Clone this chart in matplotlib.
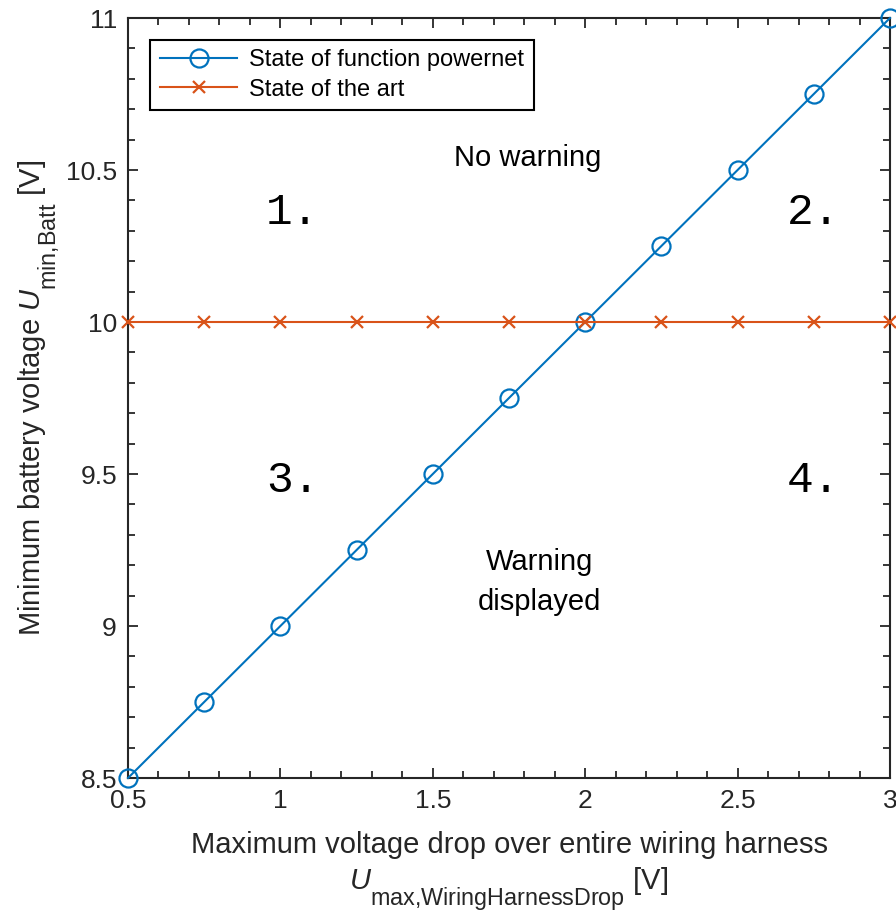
import matplotlib
matplotlib.use("Agg")
import matplotlib.pyplot as plt
from matplotlib.ticker import MultipleLocator, FormatStrFormatter

try:
    import matplotlib._mathtext as _mt
    _mt.SHRINK_FACTOR = 0.8
    _mt.FontConstantsBase.sub1 = 1.05
except Exception:
    pass

plt.rcParams['font.family'] = ['Liberation Sans', 'DejaVu Sans']
plt.rcParams['mathtext.fontset'] = 'custom'
plt.rcParams['mathtext.rm'] = 'Liberation Sans'
plt.rcParams['mathtext.it'] = 'Liberation Sans:italic'
plt.rcParams['mathtext.bf'] = 'Liberation Sans:bold'

x_vals = [0.5, 0.75, 1.0, 1.25, 1.5, 1.75, 2.0, 2.25, 2.5, 2.75, 3.0]
powernet = [8.5, 8.75, 9.0, 9.25, 9.5, 9.75, 10.0, 10.25, 10.5, 10.75, 11.0]
state_art = [10.0, 10.0, 10.0, 10.0, 10.0, 10.0, 10.0, 10.0, 10.0, 10.0, 10.0]
x_ticks = [0.5, 1, 1.5, 2, 2.5, 3]
y_ticks = [8.5, 9, 9.5, 10, 10.5, 11]

blue = '#0072BD'
orange = '#D95319'
axc = '#262626'

fig = plt.figure(figsize=(8.96, 9.15), dpi=100)
ax = fig.add_axes([128/896, 1-778/915, 762/896, 760/915])

ax.plot(x_vals, powernet, color=blue, lw=1.5, marker='o', ms=13, mfc='none',
        mew=1.6, label='State of function powernet', clip_on=False, zorder=3)
ax.plot(x_vals, state_art, color=orange, lw=1.5, marker='x', ms=8,
        mew=1.6, label='State of the art', clip_on=False, zorder=3)

ax.set_xlim(0.5, 3)
ax.set_ylim(8.5, 11)
ax.set_xticks(x_ticks)
ax.set_yticks(y_ticks)
ax.xaxis.set_minor_locator(MultipleLocator(0.1))
ax.yaxis.set_minor_locator(MultipleLocator(0.1))
ax.xaxis.set_major_formatter(FormatStrFormatter('%g'))
ax.yaxis.set_major_formatter(FormatStrFormatter('%g'))
ax.tick_params(which='both', direction='in', top=True, right=True,
               color=axc, width=1.3, labelcolor=axc, labelsize=19)
ax.tick_params(which='major', length=7, pad=8)
ax.tick_params(which='minor', length=5)
for s in ax.spines.values():
    s.set_color(axc)
    s.set_linewidth(1.5)

ax.set_xlabel('Maximum voltage drop over entire wiring harness\n'
              r'$U_{\mathrm{max{,}WiringHarnessDrop}}$ [V]',
              fontsize=21, color=axc, labelpad=13, linespacing=1.25)
ax.set_ylabel(r'Minimum battery voltage $U_{\mathrm{min{,}Batt}}$ [V]',
              fontsize=21, color=axc, labelpad=3)

ax.text(1.81, 10.54, 'No warning', fontsize=21, ha='center', va='center', color='black')
ax.text(1.85, 9.145, 'Warning\ndisplayed', fontsize=21, ha='center', va='center',
        color='black', linespacing=1.55)

mono = ['Liberation Mono', 'DejaVu Sans Mono']
for lbl, xx, yy in [('1.', 1.04, 10.36), ('2.', 2.75, 10.36),
                    ('3.', 1.04, 9.48), ('4.', 2.75, 9.48)]:
    ax.text(xx, yy, lbl, fontsize=32, family=mono, ha='center', va='center', color='black')

leg = ax.legend(loc='upper left', bbox_to_anchor=(0.029, 0.971), borderaxespad=0,
                fontsize=17, fancybox=False, framealpha=1, edgecolor='black',
                handlelength=3.3, borderpad=0.4, labelspacing=0.3, handletextpad=0.5)
leg.get_frame().set_linewidth(1.5)

fig.savefig('out.png', dpi=100)
